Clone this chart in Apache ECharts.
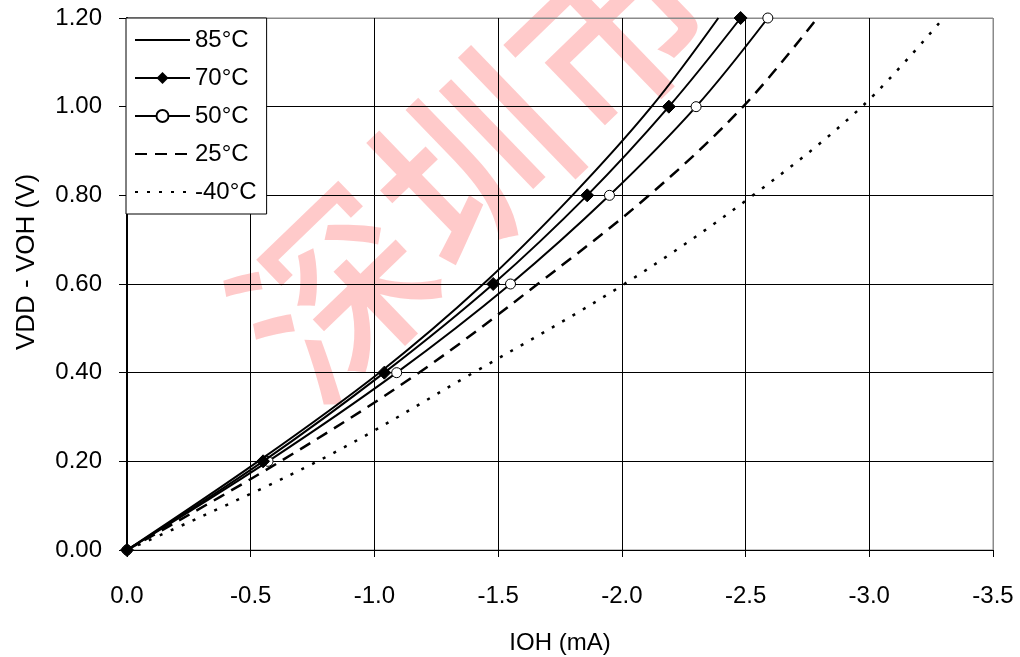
<!DOCTYPE html>
<html>
<head>
<meta charset="utf-8">
<style>
  html, body { margin: 0; padding: 0; background: #fff; }
  #chart { width: 1020px; height: 657px; }
</style>
<script src="https://cdn.jsdelivr.net/npm/echarts@6/dist/echarts.min.js"></script>
</head>
<body>
<div id="chart"></div>
<script>
// VDD - VOH (V) levels at which each curve was sampled
const voltage = [0, 0.2, 0.4, 0.6, 0.8, 1.0, 1.2];
// IOH (mA) read for each temperature at those voltages
const ioh85 = [0, -0.53, -1.02, -1.44, -1.80, -2.12, -2.39];
const ioh70 = [0, -0.55, -1.04, -1.48, -1.86, -2.19, -2.48];
const ioh50 = [0, -0.57, -1.09, -1.55, -1.95, -2.30, -2.59];
const ioh25 = [0, -0.62, -1.18, -1.66, -2.11, -2.49, -2.79];
const iohM40 = [0, -0.77, -1.40, -2.01, -2.53, -2.97, -3.30];
const seriesNames = ['85°C', '70°C', '50°C', '25°C', '-40°C'];
const xTitle = 'IOH (mA)';
const yTitle = 'VDD - VOH (V)';
const watermarkText = '深圳市';

const FONT = '"Liberation Sans", Arial, sans-serif';
const pairs = (xs) => xs.map((x, i) => [x, voltage[i]]);
const hiddenIcon = { color: 'rgba(0,0,0,0)', borderColor: 'rgba(0,0,0,0)', borderWidth: 0 };

const chart = echarts.init(document.getElementById('chart'), null, { renderer: 'canvas' });

const option = {
  backgroundColor: '#ffffff',
  animation: false,
  textStyle: { fontFamily: FONT, color: '#000' },
  graphic: [
    {
      type: 'text',
      z: -10,
      left: 200,
      top: -105,
      rotation: Math.PI * 44 / 180,
      style: {
        text: watermarkText,
        font: '500 190px "Noto Sans CJK SC"',
        fill: 'rgba(255, 80, 80, 0.3)'
      }
    },
    {
      type: 'text',
      x: 27, y: 262,
      rotation: Math.PI / 2,
      style: {
        text: yTitle,
        font: '26px "Liberation Sans", Arial, sans-serif',
        fill: '#000',
        align: 'center',
        verticalAlign: 'middle'
      }
    }
  ],
  grid: {
    left: 127, right: 27, top: 18, bottom: 107,
    show: true, borderColor: '#8a8a8a', borderWidth: 1,
    containLabel: false, outerBoundsMode: 'none'
  },
  legend: {
    orient: 'vertical',
    left: 126, top: 18,
    backgroundColor: '#ffffff',
    borderColor: '#000', borderWidth: 1,
    padding: [10, 10, 10, 8],
    itemWidth: 55, itemHeight: 15, itemGap: 14,
    textStyle: { fontFamily: FONT, fontSize: 24, color: '#000' },
    data: [
      { name: seriesNames[0], itemStyle: hiddenIcon },
      { name: seriesNames[1] },
      { name: seriesNames[2] },
      { name: seriesNames[3], itemStyle: hiddenIcon },
      { name: seriesNames[4], itemStyle: hiddenIcon }
    ]
  },
  xAxis: {
    type: 'value',
    min: -3.5, max: 0, interval: 0.5,
    inverse: true,
    name: xTitle,
    nameLocation: 'middle',
    nameGap: 81,
    nameTextStyle: { fontFamily: FONT, fontSize: 24, color: '#000' },
    axisLine: { show: true, onZero: false, lineStyle: { color: '#000', width: 1 } },
    axisTick: { show: true, length: 7, lineStyle: { color: '#000' } },
    axisLabel: { fontFamily: FONT, fontSize: 24, color: '#000', margin: 34, formatter: (v) => v.toFixed(1) },
    splitLine: { show: true, lineStyle: { color: ['#8a8a8a', '#000', '#000', '#000', '#000', '#000', '#000', '#000'], width: 1 } }
  },
  yAxis: {
    type: 'value',
    min: 0, max: 1.2, interval: 0.2,
    axisLine: { show: true, onZero: false, lineStyle: { color: '#000', width: 2 } },
    axisTick: { show: true, length: 8, lineStyle: { color: '#000' } },
    axisLabel: { fontFamily: FONT, fontSize: 24, color: '#000', margin: 25, formatter: (v) => v.toFixed(2) },
    splitLine: { show: true, lineStyle: { color: ['#000', '#000', '#000', '#000', '#000', '#000', '#8a8a8a'], width: 1 } }
  },
  series: [
    {
      name: seriesNames[0], type: 'line', data: pairs(ioh85), smooth: 0.35,
      symbol: 'none', lineStyle: { color: '#000', width: 2, type: 'solid' },
      itemStyle: { color: '#000' }, z: 5
    },
    {
      name: seriesNames[1], type: 'line', data: pairs(ioh70), smooth: 0.35,
      symbol: 'diamond', symbolSize: 13, showAllSymbol: true,
      lineStyle: { color: '#000', width: 2, type: 'solid' },
      itemStyle: { color: '#000', borderColor: '#000' }, z: 6
    },
    {
      name: seriesNames[2], type: 'line', data: pairs(ioh50), smooth: 0.35,
      symbol: 'circle', symbolSize: 10, showAllSymbol: true,
      lineStyle: { color: '#000', width: 2, type: 'solid' },
      itemStyle: { color: '#fff', borderColor: '#000', borderWidth: 1 }, z: 4
    },
    {
      name: seriesNames[3], type: 'line', data: pairs(ioh25), smooth: 0.35,
      symbol: 'none', lineStyle: { color: '#000', width: 2.5, type: [12, 8] },
      itemStyle: { color: '#000' }, z: 3
    },
    {
      name: seriesNames[4], type: 'line', data: pairs(iohM40), smooth: 0.35,
      symbol: 'none', lineStyle: { color: '#000', width: 2.5, type: [3, 9] },
      itemStyle: { color: '#000' }, z: 3
    }
  ]
};

chart.setOption(option);
</script>
</body>
</html>
